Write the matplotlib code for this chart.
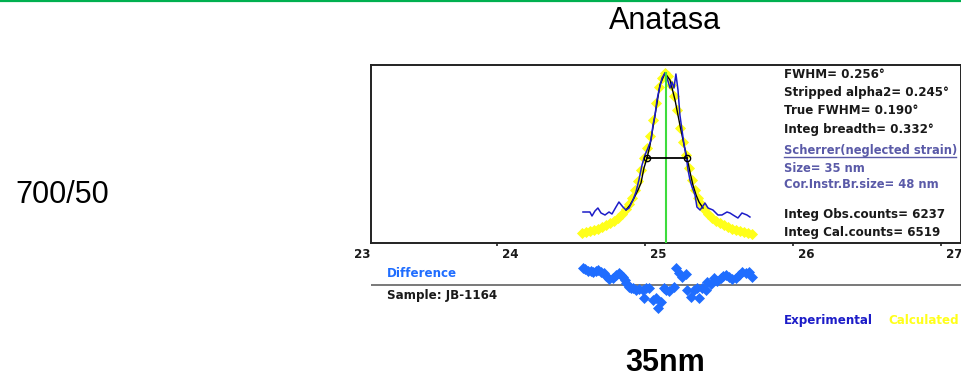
import matplotlib
matplotlib.use("Agg")
import matplotlib.pyplot as plt
from matplotlib.lines import Line2D
from matplotlib.transforms import offset_copy

W, H = 962, 383

# ---- data (2theta in degrees, intensity in arbitrary units) ----
exp_x = [24.581, 24.608, 24.628, 24.642, 24.662, 24.682, 24.703, 24.730, 24.757, 24.777,
         24.804, 24.824, 24.851, 24.872, 24.892, 24.919, 24.939, 24.959, 24.980, 25.000,
         25.020, 25.041, 25.054, 25.068, 25.081, 25.095, 25.115, 25.135, 25.149, 25.169,
         25.182, 25.196, 25.209, 25.223, 25.236, 25.250, 25.264, 25.277, 25.291, 25.304,
         25.318, 25.338, 25.351, 25.372, 25.392, 25.405, 25.426, 25.459, 25.493, 25.520,
         25.554, 25.574, 25.595, 25.628, 25.655, 25.689, 25.709]
exp_y = [31, 31, 31, 27, 32, 35, 30, 28, 31, 29,
         36, 41, 36, 33, 35, 43, 51, 63, 78, 88,
         95, 103, 118, 128, 143, 153, 165, 170, 165, 155,
         161, 155, 169, 153, 128, 113, 98, 88, 73, 63,
         56, 48, 36, 33, 37, 40, 35, 33, 28, 28,
         31, 30, 28, 25, 30, 28, 26]

calc_x = [24.574, 24.601, 24.628, 24.655, 24.682, 24.709, 24.736, 24.764, 24.791, 24.818,
          24.845, 24.872, 24.892, 24.912, 24.932, 24.953, 24.973, 24.993, 25.014, 25.034,
          25.054, 25.074, 25.095, 25.115, 25.135, 25.155, 25.176, 25.196, 25.216, 25.236,
          25.257, 25.277, 25.297, 25.318, 25.338, 25.358, 25.378, 25.399, 25.426, 25.453,
          25.480, 25.507, 25.534, 25.561, 25.588, 25.615, 25.642, 25.669, 25.696, 25.723]
calc_y = [10, 11, 12, 13, 14, 16, 18, 20, 22, 25,
          29, 34, 39, 45, 53, 62, 73, 85, 95, 107,
          123, 140, 156, 165, 170, 167, 158, 147, 133, 115,
          101, 88, 75, 63, 53, 45, 39, 34, 29, 25,
          22, 20, 18, 16, 14, 13, 12, 11, 10, 9]

fit_x = [24.872, 24.899, 24.926, 24.953, 24.973, 24.993, 25.014, 25.034, 25.068, 25.101,
         25.135, 25.169, 25.203, 25.236, 25.264, 25.284, 25.304, 25.324, 25.345, 25.365, 25.392]
fit_y = [33, 38, 45, 53, 60, 75, 85, 98, 128, 158,
         170, 163, 143, 118, 98, 85, 71, 58, 48, 41, 35]

diff_x = [24.581, 24.598, 24.615, 24.632, 24.649, 24.666, 24.682, 24.703, 24.720, 24.736,
          24.757, 24.784, 24.804, 24.824, 24.838, 24.851, 24.862, 24.872, 24.892, 24.905,
          24.919, 24.939, 24.959, 24.986, 24.993, 25.007, 25.027, 25.054, 25.074, 25.088,
          25.108, 25.128, 25.142, 25.162, 25.196, 25.209, 25.230, 25.250, 25.277, 25.284,
          25.311, 25.331, 25.351, 25.365, 25.385, 25.412, 25.419, 25.446, 25.466, 25.486,
          25.514, 25.530, 25.547, 25.568, 25.588, 25.615, 25.635, 25.655, 25.682, 25.703, 25.723]
diff_y = [17, 16, 14, 14, 13, 14, 15, 13, 12, 9,
          6, 7, 10, 12, 10, 8, 5, 2, -2, -3,
          -3, -5, -4, -5, -13, -3, -3, -15, -13, -23,
          -17, -3, -5, -6, -2, 17, 12, 8, 11, -5,
          -12, -5, -3, -13, -3, -5, 3, 1, 7, 4,
          7, 9, 10, 8, 6, 7, 10, 13, 12, 13, 8]

fwhm_x = [25.014, 25.284]
fwhm_y = [85, 85]
peak_pos = 25.142
peak_top = 170

tick_vals = [23, 24, 25, 26, 27]
tick_labels = ["23", "24", "25", "26", "27"]

info_lines = ["FWHM= 0.256°", "Stripped alpha2= 0.245°", "True FWHM= 0.190°",
              "Integ breadth= 0.332°"]
scherrer_lines = ["Scherrer(neglected strain)", "Size= 35 nm", "Cor.Instr.Br.size= 48 nm"]
count_lines = ["Integ Obs.counts= 6237", "Integ Cal.counts= 6519"]

# ---- colours ----
C_EXP = "#1c1cc8"
C_CALC = "#ffff1a"
C_DIFF = "#1f6dff"
C_GREEN = "#3ddc3d"
C_SLATE = "#5a5aa8"
C_TXT = "#1a1a1a"

fig = plt.figure(figsize=(W / 100, H / 100), dpi=100)
fig.patch.set_facecolor("white")


def fx(px):
    return px / W


def fy(py):
    return 1 - py / H


# main axes box (pixels: left 371, right 961, top 65, bottom 243)
ax = fig.add_axes([fx(371), fy(243), (961 - 371) / W, (243 - 65) / H])
ax.set_xlim(23.149, 27.135)
ax.set_ylim(0, 178)
for s in ax.spines.values():
    s.set_linewidth(1.4)
    s.set_color("#222222")
ax.set_yticks([])
ax.set_xticks([24, 25, 26, 27])
ax.set_xticklabels([])
ax.tick_params(axis="x", direction="out", length=2.5, width=1.2, color="#222222")

ax.plot(calc_x, calc_y, linestyle="none", marker="D", markersize=4.6,
        markerfacecolor=C_CALC, markeredgecolor=C_CALC, markeredgewidth=0.6, zorder=2)
ax.plot(fit_x, fit_y, color="black", lw=1.0, zorder=3)
ax.plot(exp_x, exp_y, color=C_EXP, lw=1.1, zorder=4)
ax.plot([peak_pos, peak_pos], [0, peak_top], color=C_GREEN, lw=1.5, zorder=5)
ax.plot(fwhm_x, fwhm_y, color="black", lw=1.3, marker="o", markersize=4.5,
        markerfacecolor="none", markeredgecolor="black", markeredgewidth=1.0, zorder=6)

lab_tr = offset_copy(ax.get_xaxis_transform(), fig=fig, x=13, y=-12, units="dots")
for v, t in zip(tick_vals, tick_labels):
    ax.text(v, 0, t, transform=lab_tr, ha="center", va="center", fontsize=8.6,
            family="DejaVu Sans", fontweight="bold", color=C_TXT, clip_on=False)

# difference axes
axd = fig.add_axes([fx(371), fy(335), (961 - 371) / W, (335 - 250) / H])
axd.set_xlim(23.149, 27.135)
axd.set_ylim(-50, 35)
axd.axis("off")
axd.axhline(0, color="#555555", lw=1.1, zorder=1)
axd.plot(diff_x, diff_y, linestyle="none", marker="D", markersize=4.6,
         markerfacecolor=C_DIFF, markeredgecolor=C_DIFF, markeredgewidth=0.5, zorder=2)

# info text block
small = dict(fontsize=8.6, family="DejaVu Sans", fontweight="bold", ha="left", va="baseline")
for py, t in zip([78, 96, 114, 133], info_lines):
    fig.text(fx(784), fy(py), t, color=C_TXT, **small)
sch_small = dict(small, fontsize=8.3)
for py, t in zip([154, 172, 188], scherrer_lines):
    fig.text(fx(784), fy(py), t, color=C_SLATE, **sch_small)
fig.add_artist(Line2D([fx(784), fx(956)], [fy(157), fy(157)], color=C_SLATE, lw=1.0))
for py, t in zip([218, 236], count_lines):
    fig.text(fx(784), fy(py), t, color=C_TXT, **small)

fig.text(fx(387), fy(277), "Difference", color=C_DIFF, **small)
fig.text(fx(387), fy(299), "Sample: JB-1164", color=C_TXT, **small)
fig.text(fx(784), fy(324), "Experimental", color=C_EXP, **small)
fig.text(fx(888), fy(324), "Calculated", color=C_CALC, **small)

# big texts
fig.text(fx(665), fy(21), "Anatasa", fontsize=22, family="Liberation Sans",
         ha="center", va="center", color="black")
fig.text(fx(62), fy(195), "700/50", fontsize=22, family="Liberation Sans",
         ha="center", va="center", color="black")
fig.text(fx(665), fy(363), "35nm", fontsize=22, family="Liberation Sans",
         fontweight="bold", ha="center", va="center", color="black")

# green rule at top
fig.add_artist(Line2D([0, 1], [fy(1), fy(1)], color="#00b050", lw=1.6))

fig.savefig("out.png", dpi=100)
